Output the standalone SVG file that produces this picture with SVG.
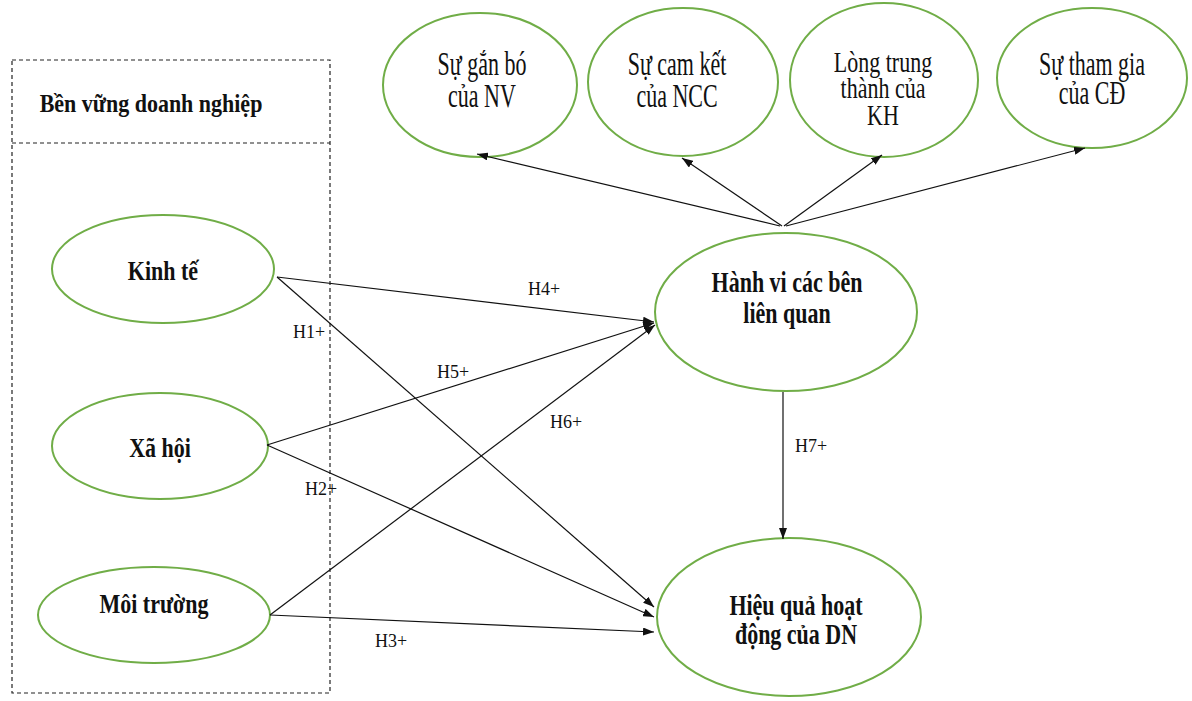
<svg xmlns="http://www.w3.org/2000/svg" width="1192" height="701" viewBox="0 0 1192 701">
<style>
.bg{fill:#ffffff}
.node{fill:#ffffff;stroke:#70ad47;stroke-width:2}
.box{fill:none;stroke:#222;stroke-width:1.2;stroke-dasharray:4 3}
.edge{fill:none;stroke:#111;stroke-width:1.2}
.b{font-family:"Liberation Serif","Times New Roman",serif;font-weight:bold;font-size:22px;fill:#111;text-anchor:middle}
.r{font-family:"Liberation Serif","Times New Roman",serif;font-size:22px;fill:#111;text-anchor:middle}
.lbl{font-family:"Liberation Serif","Times New Roman",serif;font-size:18px;fill:#111}
</style>
<defs>
<marker id="arr" markerUnits="userSpaceOnUse" markerWidth="11" markerHeight="8" refX="11" refY="4" orient="auto">
<path d="M0,0 L11,4 L0,8 z" fill="#111"/>
</marker>
</defs>
<rect class="bg" x="0" y="0" width="1192" height="701"/>
<g id="frame">
<rect class="box" x="12" y="60" width="318" height="633"/>
<line class="box" x1="12" y1="143" x2="330" y2="143"/>
<text class="b" transform="matrix(1,0,0,1.15,151,112)">Bền vững doanh nghiệp</text>
</g>
<g id="kinh-te">
<ellipse class="node" cx="163" cy="269" rx="111" ry="54"/>
<text class="b" transform="matrix(1,0,0,1.25,163,280)">Kinh tế</text>
</g>
<g id="xa-hoi">
<ellipse class="node" cx="160" cy="446" rx="108" ry="53"/>
<text class="b" transform="matrix(1,0,0,1.25,160,457)">Xã hội</text>
</g>
<g id="moi-truong">
<ellipse class="node" cx="154" cy="615" rx="116" ry="48"/>
<text class="b" transform="matrix(1,0,0,1.25,154,613)">Môi trường</text>
</g>
<g id="su-gan-bo">
<ellipse class="node" cx="480" cy="85" rx="97" ry="72"/>
<text class="r" transform="matrix(1,0,0,1.5,482,75)">Sự gắn bó</text>
<text class="r" transform="matrix(1,0,0,1.5,482,107)">của NV</text>
</g>
<g id="su-cam-ket">
<ellipse class="node" cx="683" cy="82" rx="95" ry="74"/>
<text class="r" transform="matrix(1,0,0,1.5,677,75)">Sự cam kết</text>
<text class="r" transform="matrix(1,0,0,1.5,677,107)">của NCC</text>
</g>
<g id="long-trung-thanh">
<ellipse class="node" cx="884" cy="80" rx="94" ry="77"/>
<text class="r" transform="matrix(1,0,0,1.35,883,72)">Lòng trung</text>
<text class="r" transform="matrix(1,0,0,1.35,883,98)">thành của</text>
<text class="r" transform="matrix(1,0,0,1.35,883,125)">KH</text>
</g>
<g id="su-tham-gia">
<ellipse class="node" cx="1092" cy="78" rx="95" ry="70"/>
<text class="r" transform="matrix(1,0,0,1.5,1092,75)">Sự tham gia</text>
<text class="r" transform="matrix(1,0,0,1.5,1092,104)">của CĐ</text>
</g>
<g id="hanh-vi">
<ellipse class="node" cx="786" cy="312" rx="131" ry="79"/>
<text class="b" transform="matrix(1,0,0,1.3,787,292)">Hành vi các bên</text>
<text class="b" transform="matrix(1,0,0,1.3,787,323)">liên quan</text>
</g>
<g id="hieu-qua">
<ellipse class="node" cx="789" cy="617" rx="132" ry="79"/>
<text class="b" transform="matrix(1,0,0,1.3,796,615)">Hiệu quả hoạt</text>
<text class="b" transform="matrix(1,0,0,1.3,796,644)">động của DN</text>
</g>
<g id="edges">
<line class="edge" x1="277" y1="277" x2="654" y2="322" marker-end="url(#arr)"/>
<line class="edge" x1="277" y1="277" x2="654" y2="607" marker-end="url(#arr)"/>
<line class="edge" x1="267" y1="445" x2="654" y2="323" marker-end="url(#arr)"/>
<line class="edge" x1="267" y1="445" x2="654" y2="617" marker-end="url(#arr)"/>
<line class="edge" x1="270" y1="615" x2="655" y2="325" marker-end="url(#arr)"/>
<line class="edge" x1="270" y1="615" x2="654" y2="632" marker-end="url(#arr)"/>
<line class="edge" x1="783" y1="392" x2="783" y2="539" marker-end="url(#arr)"/>
<line class="edge" x1="780" y1="226" x2="477" y2="154" marker-end="url(#arr)"/>
<line class="edge" x1="782" y1="226" x2="682" y2="158" marker-end="url(#arr)"/>
<line class="edge" x1="784" y1="226" x2="882" y2="155" marker-end="url(#arr)"/>
<line class="edge" x1="786" y1="226" x2="1085" y2="148" marker-end="url(#arr)"/>
<text class="lbl" x="528" y="295">H4+</text>
<text class="lbl" x="293" y="338">H1+</text>
<text class="lbl" x="437" y="378">H5+</text>
<text class="lbl" x="550" y="428">H6+</text>
<text class="lbl" x="305" y="495">H2+</text>
<text class="lbl" x="375" y="647">H3+</text>
<text class="lbl" x="795" y="452">H7+</text>
</g>
</svg>
